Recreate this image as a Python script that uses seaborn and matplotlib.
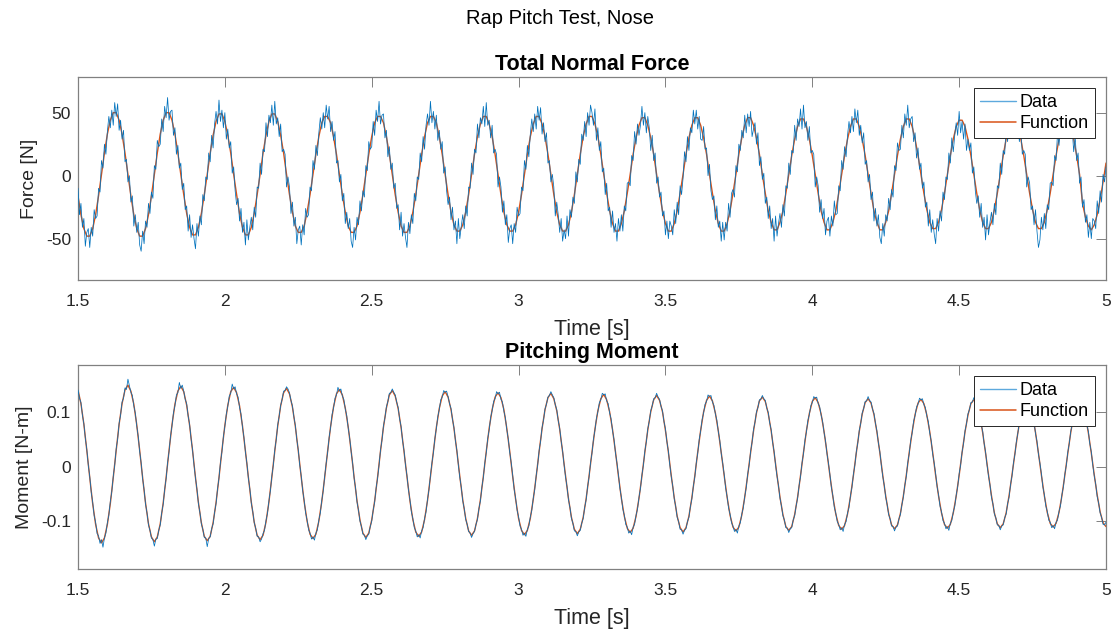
import numpy as np
import matplotlib
matplotlib.use("Agg")
import matplotlib.pyplot as plt
from matplotlib.lines import Line2D
import seaborn as sns

# ---------------- data ----------------
suptitle = "Rap Pitch Test, Nose"
x_ticks = [1.5, 2, 2.5, 3, 3.5, 4, 4.5, 5]
x_tick_labels = ["1.5", "2", "2.5", "3", "3.5", "4", "4.5", "5"]
force_ticks = [-50, 0, 50]
force_tick_labels = ["-50", "0", "50"]
moment_ticks = [-0.1, 0, 0.1]
moment_tick_labels = ["-0.1", "0", "0.1"]
t_start, t_end = 1.5, 5.0

# Total normal force [N], measured data (sampled every 5 ms from 1.5 s to 5.0 s)
force_data = [
    -10,-31,-22,-41,-34,-56,-45,-42,-57,-41,-48,-27,-34,-32,-10,-13,12,6,25,17,35,47,38,52,40,58,47,57,36,44,29,36,11,13,-5,0,
    -21,-16,-40,-31,-45,-37,-55,-60,-44,-54,-36,-41,-22,-30,-13,-18,8,5,28,23,25,45,35,55,46,62,44,51,52,32,38,17,24,6,10,-11,
    -6,-27,-24,-44,-31,-49,-39,-50,-58,-38,-48,-32,-39,-15,-20,-1,-3,18,11,32,22,41,51,41,60,43,52,38,50,29,37,22,27,2,7,-12,
    -23,-18,-36,-26,-45,-37,-55,-35,-51,-41,-33,-43,-25,-33,-9,-10,10,1,21,19,42,31,48,42,56,40,59,41,46,31,41,19,21,17,-9,-1,
    -9,-30,-21,-40,-33,-54,-43,-40,-55,-39,-47,-26,-33,-31,-9,-12,12,5,24,16,34,46,37,50,38,56,45,55,35,43,28,35,10,12,-5,1,
    -20,-14,-38,-29,-42,-34,-52,-57,-41,-51,-33,-39,-20,-28,-12,-17,8,4,27,21,23,43,32,52,43,59,41,48,49,30,36,15,23,5,10,-10,
    -6,-26,-23,-43,-29,-48,-38,-49,-57,-37,-46,-31,-38,-14,-20,-1,-3,18,11,31,21,40,49,40,59,42,51,37,48,28,36,21,27,2,7,-12,
    -23,-17,-35,-25,-43,-36,-54,-34,-50,-40,-31,-42,-24,-32,-9,-10,10,1,21,18,41,30,46,41,55,39,58,40,44,30,40,18,21,17,-9,-1,
    -9,-29,-20,-39,-31,-53,-42,-39,-54,-38,-45,-25,-32,-30,-9,-12,12,5,24,15,33,45,35,49,37,55,44,54,33,42,27,34,10,12,-5,1,
    -9,-32,-21,-31,-45,-34,-52,-43,-50,-32,-48,-27,-33,-17,-22,3,-5,13,9,33,28,43,31,50,40,56,50,40,53,28,38,20,27,3,6,-15,
    -6,-28,-25,-41,-28,-45,-38,-52,-34,-44,-31,-44,-24,-28,-6,-5,-8,16,12,35,25,41,32,40,55,40,50,34,47,38,20,32,12,18,-6,-1,
    -17,-13,-32,-28,-47,-36,-50,-36,-40,-47,-27,-38,-21,-31,-8,-15,-2,19,11,31,20,38,34,52,41,52,37,47,29,28,39,21,22,0,9,-12,
    -19,-16,-35,-24,-41,-36,-52,-37,-51,-37,-44,-22,-33,-14,-11,-17,8,3,25,20,36,30,48,34,49,39,51,31,37,42,25,34,8,15,-3,2,
    -22,-17,-34,-24,-42,-34,-52,-32,-48,-38,-30,-41,-23,-32,-8,-10,10,1,20,18,40,28,45,39,53,37,56,38,43,28,39,18,20,17,-9,-1,
    -8,-29,-19,-34,-26,-47,-36,-33,-48,-32,-40,-20,-31,-30,-8,-12,12,5,23,15,32,43,34,47,35,53,42,52,32,40,26,34,9,12,-5,1,
    -19,-13,-36,-26,-40,-31,-49,-54,-38,-48,-31,-36,-18,-27,-11,-17,8,4,26,20,21,40,30,49,40,56,38,45,47,27,34,14,22,5,10,-10,
    -5,-25,-21,-40,-27,-45,-35,-46,-54,-34,-44,-28,-36,-13,-19,-1,-3,18,10,30,19,32,42,32,51,34,43,29,41,20,29,20,26,2,7,-12,
    -22,-16,-33,-22,-41,-33,-51,-31,-47,-37,-29,-39,-22,-31,-8,-10,10,1,20,17,39,27,44,38,52,36,55,37,42,27,38,17,20,17,-9,-1,
    -6,-27,-24,-39,-27,-44,-57,-51,-33,-43,-30,-42,-23,-27,-6,-5,-8,16,12,34,24,40,31,39,54,39,49,33,46,37,19,31,12,18,-6,-1,
    -25,-19,-37,-31,-49,-37,-50,-34,-36,-42,-20,-30,-12,-21,1,-5,7,
]

# Total normal force [N], fitted function (sampled every 10 ms)
force_func = [
    -16,-31,-42,-48,-48,-42,-31,-16,1,18,33,44,50,50,44,33,18,1,
    -16,-31,-42,-48,-48,-42,-31,-16,1,18,33,44,50,50,44,33,18,1,
    -15,-30,-41,-47,-47,-41,-30,-15,1,18,32,43,49,49,43,32,18,1,
    -15,-30,-41,-47,-47,-41,-30,-15,1,18,32,43,49,49,43,32,18,1,
    -15,-29,-40,-45,-45,-40,-29,-15,1,17,31,42,47,47,42,31,17,1,
    -15,-29,-40,-45,-45,-40,-29,-15,1,17,31,42,47,47,42,31,17,1,
    -15,-29,-40,-45,-45,-40,-29,-15,1,17,31,42,47,47,42,31,17,1,
    -15,-29,-39,-44,-44,-39,-29,-15,1,17,31,41,47,47,41,31,17,1,
    -15,-29,-39,-44,-44,-39,-29,-15,1,17,31,41,47,47,41,31,17,1,
    -15,-29,-39,-44,-44,-39,-29,-15,1,17,31,41,47,47,41,31,17,1,
    -14,-28,-38,-44,-44,-38,-28,-14,1,17,30,40,46,46,40,30,17,1,
    -14,-28,-38,-44,-44,-38,-28,-14,1,17,30,40,46,46,40,30,17,1,
    -14,-28,-38,-44,-44,-38,-28,-14,1,17,30,40,46,46,40,30,17,1,
    -14,-28,-37,-43,-43,-37,-28,-14,1,16,29,39,45,45,39,29,16,1,
    -14,-28,-37,-43,-43,-37,-28,-14,1,16,29,39,45,45,39,29,16,1,
    -14,-28,-37,-43,-43,-37,-28,-14,1,16,29,39,45,45,39,29,16,1,
    -14,-27,-37,-42,-42,-37,-27,-14,1,16,29,39,44,44,39,29,16,1,
    -14,-27,-37,-42,-42,-37,-27,-14,1,16,29,39,44,44,39,29,16,1,
    -14,-27,-37,-42,-42,-37,-27,-14,1,16,29,39,44,44,39,29,16,1,
    -22,-33,-40,-43,-39,-31,-19,-5,10,
]

# Pitching moment [N-m], measured data (sampled every 5 ms)
moment_data = [
    .141,.126,.118,.095,.079,.052,.032,.003,-.018,-.047,-.065,-.090,-.102,-.123,-.127,-.141,-.134,-.148,-.131,-.122,-.103,-.089,-.064,-.046,-.018,.003,.033,.051,.080,.095,.119,.126,.145,.142,.161,.149,
    .137,.131,.112,.099,.075,.056,.028,.007,-.022,-.042,-.069,-.085,-.107,-.117,-.131,-.134,-.146,-.133,-.132,-.117,-.107,-.085,-.069,-.042,-.022,.007,.028,.056,.075,.099,.112,.132,.136,.155,.144,.150,
    .139,.124,.116,.093,.078,.051,.031,.003,-.021,-.041,-.068,-.084,-.105,-.115,-.130,-.131,-.147,-.132,-.129,-.114,-.105,-.084,-.068,-.041,-.021,.008,.027,.055,.074,.097,.111,.130,.135,.152,.143,.147,
    .134,.128,.109,.097,.073,.054,.027,.007,-.021,-.040,-.067,-.082,-.103,-.113,-.128,-.129,-.138,-.133,-.123,-.117,-.099,-.086,-.063,-.044,-.017,.003,.031,.050,.077,.093,.113,.124,.139,.140,.147,.143,
    .136,.122,.112,.092,.076,.050,.031,.003,-.017,-.044,-.062,-.085,-.098,-.116,-.122,-.133,-.129,-.135,-.122,-.116,-.098,-.085,-.062,-.044,-.017,.007,.027,.054,.072,.096,.108,.126,.132,.146,.139,.143,
    .130,.124,.106,.094,.071,.053,.027,.007,-.021,-.039,-.065,-.080,-.100,-.110,-.124,-.126,-.134,-.127,-.124,-.110,-.100,-.080,-.065,-.039,-.021,.003,.031,.049,.075,.090,.110,.120,.135,.136,.143,.137,
    .132,.119,.109,.088,.074,.048,.030,.003,-.016,-.042,-.060,-.083,-.095,-.112,-.118,-.129,-.125,-.131,-.118,-.112,-.095,-.083,-.060,-.042,-.016,.007,.026,.052,.070,.092,.105,.123,.128,.140,.137,.139,
    .129,.116,.107,.087,.072,.048,.030,.003,-.020,-.038,-.063,-.077,-.097,-.106,-.119,-.122,-.130,-.123,-.119,-.106,-.097,-.077,-.063,-.038,-.020,.007,.026,.052,.068,.091,.103,.120,.125,.138,.134,.137,
    .124,.119,.102,.090,.068,.051,.026,.007,-.016,-.042,-.058,-.080,-.092,-.109,-.115,-.126,-.122,-.128,-.115,-.109,-.092,-.080,-.058,-.042,-.016,.003,.030,.047,.072,.086,.106,.115,.128,.131,.138,.132,
    .127,.114,.105,.085,.071,.047,.029,.003,-.019,-.037,-.061,-.075,-.095,-.104,-.118,-.119,-.127,-.120,-.117,-.104,-.095,-.075,-.061,-.037,-.019,.007,.025,.051,.067,.089,.101,.118,.123,.135,.132,.134,
    .121,.116,.099,.088,.066,.050,.025,.007,-.015,-.040,-.056,-.078,-.089,-.106,-.111,-.122,-.118,-.125,-.111,-.106,-.089,-.078,-.056,-.040,-.015,.003,.029,.046,.070,.084,.103,.112,.125,.127,.135,.128,
    .124,.111,.103,.083,.070,.046,.029,.003,-.019,-.036,-.059,-.073,-.093,-.101,-.115,-.116,-.124,-.117,-.114,-.101,-.093,-.073,-.059,-.036,-.019,.007,.025,.050,.066,.087,.099,.115,.120,.132,.129,.131,
    .119,.113,.097,.086,.065,.049,.024,.007,-.014,-.039,-.055,-.076,-.087,-.103,-.109,-.119,-.115,-.122,-.109,-.103,-.087,-.076,-.055,-.039,-.014,.003,.028,.045,.069,.082,.101,.109,.123,.124,.131,.125,
    .122,.108,.100,.081,.068,.045,.028,.003,-.018,-.035,-.058,-.072,-.090,-.098,-.112,-.113,-.121,-.114,-.112,-.098,-.090,-.072,-.058,-.035,-.018,.007,.024,.049,.064,.085,.096,.112,.118,.129,.126,.128,
    .116,.111,.095,.084,.063,.048,.024,.007,-.014,-.038,-.053,-.075,-.085,-.101,-.106,-.116,-.112,-.119,-.106,-.101,-.085,-.075,-.053,-.038,-.014,.003,.028,.044,.067,.080,.099,.107,.120,.121,.129,.122,
    .119,.106,.098,.080,.066,.044,.028,.003,-.018,-.034,-.056,-.070,-.088,-.096,-.109,-.110,-.118,-.111,-.109,-.096,-.088,-.070,-.056,-.034,-.018,.007,.024,.048,.062,.084,.094,.110,.115,.126,.123,.125,
    .114,.109,.093,.083,.062,.047,.023,.007,-.013,-.037,-.052,-.073,-.083,-.099,-.104,-.114,-.110,-.117,-.104,-.099,-.083,-.073,-.052,-.037,-.013,.003,.027,.043,.066,.079,.097,.105,.118,.119,.127,.120,
    .117,.104,.097,.078,.066,.043,.027,.003,-.017,-.033,-.056,-.068,-.087,-.094,-.107,-.108,-.116,-.109,-.107,-.094,-.087,-.068,-.056,-.033,-.017,.007,.023,.047,.062,.082,.093,.108,.113,.124,.121,.123,
    .112,.107,.092,.082,.061,.047,.023,.007,-.013,-.037,-.051,-.072,-.082,-.098,-.102,-.112,-.108,-.114,-.102,-.098,-.082,-.072,-.051,-.037,-.013,.003,.027,.043,.065,.078,.096,.103,.116,.117,.124,.118,
    .115,.102,.095,.077,.065,.042,.027,.003,-.017,-.032,-.055,-.067,-.085,-.093,-.106,-.107,-.102,
]

# Pitching moment [N-m], fitted function (sampled every 10 ms)
moment_func = [
    .141,.116,.078,.030,-.020,-.068,-.106,-.131,-.140,-.131,-.106,-.068,-.020,.030,.078,.116,.141,.150,
    .139,.115,.077,.030,-.020,-.067,-.105,-.129,-.138,-.129,-.105,-.067,-.020,.030,.077,.115,.139,.148,
    .138,.113,.076,.030,-.020,-.066,-.103,-.128,-.136,-.128,-.103,-.066,-.020,.030,.076,.113,.138,.146,
    .136,.112,.075,.029,-.019,-.065,-.102,-.126,-.134,-.126,-.102,-.065,-.019,.029,.075,.112,.136,.144,
    .134,.110,.074,.029,-.019,-.064,-.100,-.124,-.132,-.124,-.100,-.064,-.019,.029,.074,.110,.134,.142,
    .132,.108,.073,.029,-.019,-.063,-.098,-.122,-.130,-.122,-.098,-.063,-.019,.029,.073,.108,.132,.140,
    .130,.107,.072,.028,-.018,-.062,-.097,-.120,-.128,-.120,-.097,-.062,-.018,.028,.072,.107,.130,.138,
    .128,.105,.071,.028,-.018,-.061,-.095,-.118,-.126,-.118,-.095,-.061,-.018,.028,.071,.105,.128,.136,
    .127,.105,.070,.028,-.018,-.060,-.095,-.117,-.125,-.117,-.095,-.060,-.018,.028,.070,.105,.127,.135,
    .125,.103,.069,.027,-.017,-.059,-.093,-.115,-.123,-.115,-.093,-.059,-.017,.027,.069,.103,.125,.133,
    .123,.101,.068,.027,-.017,-.058,-.091,-.113,-.121,-.113,-.091,-.058,-.017,.027,.068,.101,.123,.131,
    .122,.101,.067,.027,-.017,-.057,-.091,-.112,-.120,-.112,-.091,-.057,-.017,.027,.067,.101,.122,.130,
    .121,.099,.066,.026,-.016,-.056,-.089,-.111,-.118,-.111,-.089,-.056,-.016,.026,.066,.099,.121,.128,
    .120,.098,.066,.026,-.016,-.056,-.088,-.110,-.117,-.110,-.088,-.056,-.016,.026,.066,.098,.120,.127,
    .118,.097,.065,.026,-.016,-.055,-.087,-.108,-.115,-.108,-.087,-.055,-.016,.026,.065,.097,.118,.125,
    .117,.096,.064,.026,-.016,-.054,-.086,-.107,-.114,-.107,-.086,-.054,-.016,.026,.064,.096,.117,.124,
    .116,.095,.064,.026,-.016,-.054,-.085,-.106,-.113,-.106,-.085,-.054,-.016,.026,.064,.095,.116,.123,
    .115,.095,.063,.025,-.015,-.053,-.085,-.105,-.112,-.105,-.085,-.053,-.015,.025,.063,.095,.115,.122,
    .114,.094,.063,.025,-.015,-.053,-.084,-.104,-.111,-.104,-.084,-.053,-.015,.025,.063,.094,.114,.121,
    .113,.093,.062,.025,-.015,-.052,-.083,-.103,-.110,
]

# ---------------- styling ----------------
sns.set_theme(style="white")
plt.rcParams["font.family"] = ["Liberation Sans", "DejaVu Sans"]
plt.rcParams["axes.unicode_minus"] = False

DATA_COLOR = "#0072BD"
FUNC_COLOR = "#D95319"
TEXT_COLOR = "#262626"
AXIS_COLOR = "#808080"

W, H = 1119, 635
fig = plt.figure(figsize=(W / 100, H / 100), dpi=100)
fig.patch.set_facecolor("white")

L, R = 78, 1106
ax1 = fig.add_axes([L / W, 1 - 280 / H, (R - L) / W, (280 - 77) / H])
ax2 = fig.add_axes([L / W, 1 - 569 / H, (R - L) / W, (569 - 365) / H])


def draw_panel(ax, data, func, title, ylabel, ylim, yticks, yticklabels):
    td = np.linspace(t_start, t_end, len(data))
    tf = np.linspace(t_start, t_end, len(func))
    sns.lineplot(x=tf, y=func, ax=ax, color=FUNC_COLOR, linewidth=1.0,
                 estimator=None, sort=False, zorder=2, legend=False)
    sns.lineplot(x=td, y=data, ax=ax, color=DATA_COLOR, linewidth=0.55,
                 estimator=None, sort=False, zorder=3, legend=False)
    ax.set_xlim(t_start, t_end)
    ax.set_ylim(*ylim)
    ax.set_xticks(x_ticks)
    ax.set_xticklabels(x_tick_labels)
    ax.set_yticks(yticks)
    ax.set_yticklabels(yticklabels)
    ax.set_title(title, fontsize=15.5, fontweight="bold", color="black", pad=5)
    ax.set_xlabel("Time [s]", fontsize=15.5, color=TEXT_COLOR, labelpad=7)
    ax.set_ylabel(ylabel, fontsize=14, color=TEXT_COLOR, labelpad=6)
    ax.tick_params(axis="both", which="both", direction="in", length=7,
                   width=0.7, color=AXIS_COLOR, labelcolor=TEXT_COLOR,
                   labelsize=12.5, top=True, right=True)
    ax.tick_params(axis="x", pad=10)
    ax.tick_params(axis="y", pad=5)
    for sp in ax.spines.values():
        sp.set_visible(True)
        sp.set_color(AXIS_COLOR)
        sp.set_linewidth(0.9)
    handles = [Line2D([], [], color="#5DA9DD", linewidth=1.0),
               Line2D([], [], color=FUNC_COLOR, linewidth=1.1)]
    leg = ax.legend(handles, ["Data", "Function"], loc="upper right",
                    fontsize=13, frameon=True, fancybox=False, framealpha=1.0,
                    edgecolor=TEXT_COLOR, borderaxespad=0.6, borderpad=0.35,
                    handlelength=2.0, handletextpad=0.2, labelspacing=0.22)
    leg.get_frame().set_linewidth(0.7)
    leg.set_zorder(5)
    for txt in leg.get_texts():
        txt.set_color("black")
    ax.grid(False)


draw_panel(ax1, force_data, force_func, "Total Normal Force", "Force [N]",
           (-82.8, 78.3), force_ticks, force_tick_labels)
draw_panel(ax2, moment_data, moment_func, "Pitching Moment", "Moment [N-m]",
           (-0.188, 0.187), moment_ticks, moment_tick_labels)

fig.text(0.5, 1 - 18 / H, suptitle, ha="center", va="center",
         fontsize=14.5, color="black")

fig.savefig("out.png", dpi=100, facecolor="white")
